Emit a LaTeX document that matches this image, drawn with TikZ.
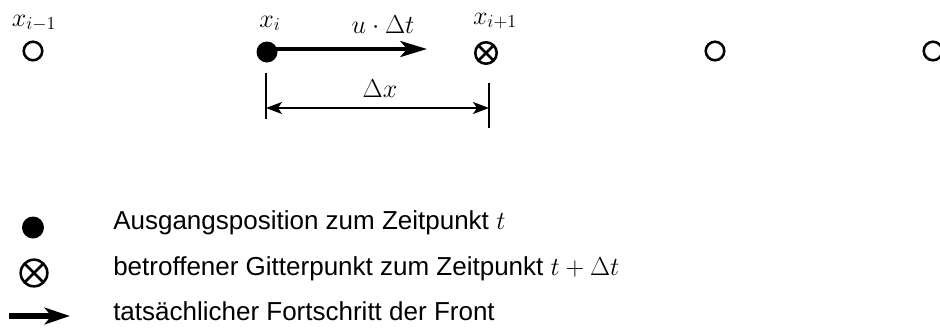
\RequirePackage{fix-cm}
\documentclass[tikz,border=0pt]{standalone}
\usepackage{fontspec}
\setmainfont{Liberation Sans}
\usetikzlibrary{arrows.meta}
\begin{document}
\begin{tikzpicture}[x=0.75pt,y=-0.75pt,
  every node/.style={font=\fontsize{19.5}{23}\selectfont, inner sep=0pt},
  opencirc/.style={circle, draw, line width=1.9pt, minimum size=13.9pt},
  fulldot/.style={circle, fill, minimum size=#1},
  fulldot/.default=15.75pt,
  crosscirc/.style={circle, draw, line width=1.9pt, minimum size=#1,
    path picture={\draw[line width=1.9pt] (path picture bounding box.north east) -- (path picture bounding box.south west)
      (path picture bounding box.north west) -- (path picture bounding box.south east);}},
  crosscirc/.default=16.1pt,
  lbl/.style={anchor=base},
  legtext/.style={anchor=base west},
  thickarr/.style={line width=3pt, -{Stealth[length=20pt,width=12pt,inset=5pt]}},
  legarr/.style={line width=4pt, -{Stealth[length=19pt,width=12.5pt,inset=5pt]}},
  dimarr/.style={line width=1.5pt, {Stealth[length=12pt,width=9pt,inset=3pt]}-{Stealth[length=12pt,width=9pt,inset=3pt]}},
  tick/.style={line width=1.5pt}
]
\useasboundingbox (0,0) rectangle (940,329);

% grid points
\node[opencirc] (p0) at (33,51) {};
\node[fulldot] (xi) at (267,52) {};
\node[crosscirc] (p2) at (486,53) {};
\node[opencirc] (p3) at (715,51) {};
\node[opencirc] (p4) at (933,51) {};

% labels
\node[lbl] (l0) at (34,26) {$x_{i-1}$};
\node[lbl] (l1) at (270,27) {$x_i$};
\node[lbl] (l2) at (495,24) {$x_{i+1}$};
\node[lbl] (lu) at (383,33) {$u\cdot\Delta t$};
\node[lbl] (ldx) at (380,97) {$\Delta x$};

% front progress arrow
\coordinate (ustart) at (267,49);
\coordinate (utip) at (427,49);
\draw[thickarr] (ustart) -- (utip);

% dimension
\coordinate (dl1) at (266,73);
\coordinate (dl2) at (266,119);
\coordinate (dr1) at (489,83);
\coordinate (dr2) at (489,128);
\coordinate (dla) at (266,108);
\coordinate (dra) at (489,108);
\draw[tick] (dl1) -- (dl2);
\draw[tick] (dr1) -- (dr2);
\draw[dimarr] (dla) -- (dra);

% legend
\node[fulldot=16.5pt] (gdot) at (33,227.5) {};
\node[crosscirc=20pt] (gcross) at (34,273) {};
\coordinate (ga1) at (9,316);
\coordinate (ga2) at (70,316);
\draw[legarr] (ga1) -- (ga2);

\node[legtext] (t1) at (113,229) {Ausgangsposition zum Zeitpunkt $t$};
\node[legtext] (t2) at (113,275) {betroffener Gitterpunkt zum Zeitpunkt $t+\Delta t$};
\node[legtext] (t3) at (113,320) {tatsächlicher Fortschritt der Front};
\end{tikzpicture}
\end{document}
